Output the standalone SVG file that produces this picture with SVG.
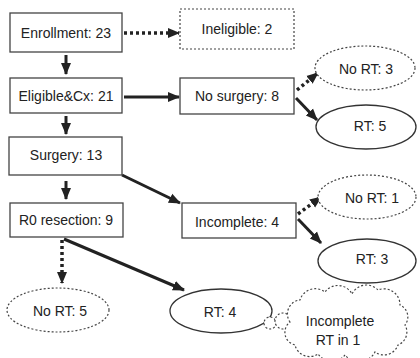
<svg xmlns="http://www.w3.org/2000/svg" width="420" height="358" viewBox="0 0 420 358">
<style>
.box{fill:#fff;stroke:#444;stroke-width:1.3}
.dbox{fill:#fff;stroke:#444;stroke-width:1.2;stroke-dasharray:2 2}
.ell{fill:#fff;stroke:#333;stroke-width:1.3}
.dell{fill:#fff;stroke:#444;stroke-width:1.2;stroke-dasharray:2 2}
text{font-family:"Liberation Sans",Arial,sans-serif;font-size:14px;fill:#222;text-anchor:middle}
.ar{fill:none;stroke:#222;stroke-width:3}
.dar{fill:none;stroke:#222;stroke-width:3.5;stroke-dasharray:3 3}
</style>
<defs>
<marker id="ah" markerUnits="userSpaceOnUse" markerWidth="12" markerHeight="12" viewBox="0 0 12 12" refX="11" refY="6" orient="auto">
<path d="M0,1 L12,6 L0,11 Z" fill="#222"/>
</marker>
</defs>
<g id="connectors">
<line class="dar" x1="124" y1="33" x2="179" y2="33" marker-end="url(#ah)"/>
<line class="ar" x1="66" y1="55" x2="66" y2="74" marker-end="url(#ah)"/>
<line class="ar" x1="124" y1="97" x2="179" y2="97" marker-end="url(#ah)"/>
<line class="ar" x1="66" y1="116" x2="66" y2="134" marker-end="url(#ah)"/>
<line class="dar" x1="297" y1="90" x2="318" y2="73" marker-end="url(#ah)"/>
<line class="ar" x1="296" y1="98" x2="317" y2="120" marker-end="url(#ah)"/>
<line class="ar" x1="66" y1="181" x2="66" y2="199" marker-end="url(#ah)"/>
<line class="ar" x1="122" y1="175" x2="180" y2="203" marker-end="url(#ah)"/>
<line class="dar" x1="298" y1="214" x2="321" y2="197" marker-end="url(#ah)"/>
<line class="ar" x1="298" y1="219" x2="321" y2="243" marker-end="url(#ah)"/>
<line class="dar" x1="62" y1="240" x2="62" y2="283" marker-end="url(#ah)"/>
<line class="ar" x1="64" y1="239" x2="184" y2="290" marker-end="url(#ah)"/>
</g>
<g id="enrollment"><rect class="box" x="10" y="13" width="112" height="39"/><text x="66" y="38">Enrollment: 23</text></g>
<g id="ineligible"><rect class="dbox" x="180" y="9" width="114" height="40"/><text x="237" y="34">Ineligible: 2</text></g>
<g id="eligible"><rect class="box" x="10" y="78" width="112" height="35"/><text x="66" y="101">Eligible&amp;Cx: 21</text></g>
<g id="nosurgery"><rect class="box" x="180" y="78" width="114" height="36"/><text x="237" y="101">No surgery: 8</text></g>
<g id="nort3"><ellipse class="dell" cx="365" cy="68" rx="50" ry="22"/><text x="366" y="74">No RT: 3</text></g>
<g id="rt5"><ellipse class="ell" cx="366" cy="127" rx="50" ry="22"/><text x="370" y="131">RT: 5</text></g>
<g id="surgery"><rect class="box" x="9" y="137" width="113" height="38"/><text x="66" y="160">Surgery: 13</text></g>
<g id="r0"><rect class="box" x="10" y="203" width="113" height="34"/><text x="66" y="225">R0 resection: 9</text></g>
<g id="incomplete"><rect class="box" x="182" y="203" width="114" height="35"/><text x="237" y="227">Incomplete: 4</text></g>
<g id="nort1"><ellipse class="dell" cx="367" cy="197" rx="49" ry="22"/><text x="372" y="203">No RT: 1</text></g>
<g id="rt3"><ellipse class="ell" cx="367" cy="261" rx="49" ry="22"/><text x="372" y="264">RT: 3</text></g>
<g id="nort5"><ellipse class="dell" cx="58" cy="310" rx="51" ry="22"/><text x="60" y="316">No RT: 5</text></g>
<g id="rt4"><ellipse class="ell" cx="221" cy="311" rx="51" ry="22"/><text x="220" y="317">RT: 4</text></g>
<g id="cloud">
<circle class="dell" cx="270" cy="323" r="6"/>
<circle class="dell" cx="283" cy="321" r="8"/>
<path class="dell" d="M290,322 A14,14 0 0 1 300,300 A16,16 0 0 1 325,292 A16,16 0 0 1 352,294 A16,16 0 0 1 378,290 A16,16 0 0 1 400,305 A13,13 0 0 1 405,325 A14,14 0 0 1 398,345 A15,15 0 0 1 375,352 A18,18 0 0 1 345,355 A17,17 0 0 1 318,354 A15,15 0 0 1 295,345 A13,13 0 0 1 290,322 Z"/>
<text x="340" y="326">Incomplete</text>
<text x="338" y="345">RT in 1</text>
</g>
</svg>
